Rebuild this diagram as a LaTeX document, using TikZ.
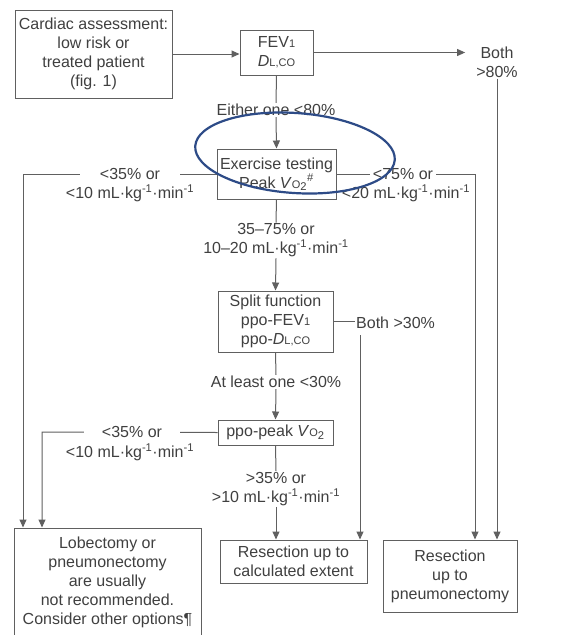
\documentclass[tikz,border=0pt]{standalone}
\usepackage{fontspec}
\setmainfont{Liberation Sans}
\usetikzlibrary{arrows.meta}
\definecolor{ink}{RGB}{64,64,64}
\definecolor{wire}{RGB}{96,96,96}
\definecolor{ring}{RGB}{45,75,135}
\newcommand{\smx}[1]{{\fontsize{11}{11}\selectfont #1}}
\newcommand{\unitt}{mL·kg\textsuperscript{-1}·min\textsuperscript{-1}}
\begin{document}
\begin{tikzpicture}[x=1pt,y=-1pt,
  font=\fontsize{16}{19}\selectfont,
  box/.style={draw=wire, line width=1pt, align=center, inner sep=0pt, text=ink},
  lbl/.style={align=center, inner sep=1pt, text=ink},
  wireline/.style={draw=wire, line width=1pt},
  arr/.style={wireline, -{Triangle[length=8pt,width=7pt]}}]
\useasboundingbox (0,0) rectangle (577,635);
\clip (0,0) rectangle (577,635);
\fill[white] (0,0) rectangle (577,635);
% boxes
\node[box, minimum width=157pt, minimum height=88pt] (card) at (93.5,54) {Cardiac assessment:\\low risk or\\treated patient\\(fig. 1)};
\node[box, minimum width=73pt, minimum height=45pt] (fev) at (276.5,52.5) {FEV\smx{1}\\\textit{D}\smx{L,CO}};
\node[lbl] (both) at (497,62) {Both\\>80\%};
\node[lbl] (either) at (276,110) {Either one <80\%};
\node[box, minimum width=119pt, minimum height=50pt] (ex) at (276.5,174) {Exercise testing\\Peak \textit{V}\smx{O}\textsubscript{2}\textsuperscript{\#}};
\node[lbl] (mid) at (276,240.5) {35–75\% or\\10–20 \unitt};
\node[box, minimum width=115pt, minimum height=61pt] (split) at (275.5,321.5) {Split function\\ppo-FEV\smx{1}\\ppo-\textit{D}\smx{L,CO}};
\node[lbl, anchor=west] (both30) at (355,323) {Both >30\%};
\node[lbl] (least) at (276,382) {At least one <30\%};
\node[box, minimum width=115pt, minimum height=25pt] (ppo) at (275.5,432.5) {ppo-peak \textit{V}\smx{O}\textsubscript{2}};
\node[lbl] (gt35) at (276,489) {>35\% or\\>10 \unitt};
\node[box, minimum width=147pt, minimum height=43pt] (calc) at (293.5,561.5) {Resection up to\\calculated extent};
\node[box, minimum width=134pt, minimum height=72pt] (pneu) at (450,576) {Resection\\up to\\pneumonectomy};
\node[box, minimum width=187pt, minimum height=108pt] (lob) at (107.5,582) {Lobectomy or\\pneumonectomy\\are usually\\not recommended.\\Consider other options¶};
% corner coordinates
\coordinate (cA) at (23,174);
\coordinate (cB) at (475,174);
\coordinate (cC) at (42,432);
\coordinate (c30) at (360,335);
% connectors
\draw[arr] (card.east) -- (card.east -| fev.west);
\draw[arr, shorten >=10pt] (fev.east) -- (fev.east -| both.west);
\draw[arr] (both.south) -- (both.south |- pneu.north);
\draw[wireline] (fev.south) -- (either.north);
\draw[arr] (either.south) -- (ex.north);
\draw[arr] (ex.west) -- (cA) -- (cA |- lob.north);
\draw[arr] (ex.east) -- (cB) -- (cB |- pneu.north);
\draw[wireline] (ex.south) -- (mid.north);
\draw[arr] (mid.south) -- (split.north);
\draw[wireline] (split.east) -- (split.east -| both30.west);
\draw[arr] (c30) -- (c30 |- calc.north);
\draw[wireline] (split.south) -- (least.north);
\draw[arr] (least.south) -- (ppo.north);
\draw[arr] (ppo.west) -- (cC) -- (cC |- lob.north);
\draw[wireline] (ppo.south) -- (gt35.north);
\draw[arr] (gt35.south) -- (gt35.south |- calc.north);
% branch labels
\node[lbl, fill=white, inner xsep=20pt] (l1a) at (130,174) {<35\% or};
\node[lbl] (l1b) at (130,193) {<10 \unitt};
\node[lbl, fill=white, inner xsep=3pt] (l2a) at (403,174) {<75\% or};
\node[lbl] (l2b) at (406,193) {<20 \unitt};
\node[lbl, fill=white, inner xsep=18pt] (l3a) at (132,432) {<35\% or};
\node[lbl] (l3b) at (130,452) {<10 \unitt};
% hand-drawn ring
\draw[ring, line width=2.2pt, rotate around={-4:(295,153)}] (295,153) ellipse [x radius=100, y radius=40];
\end{tikzpicture}
\end{document}
